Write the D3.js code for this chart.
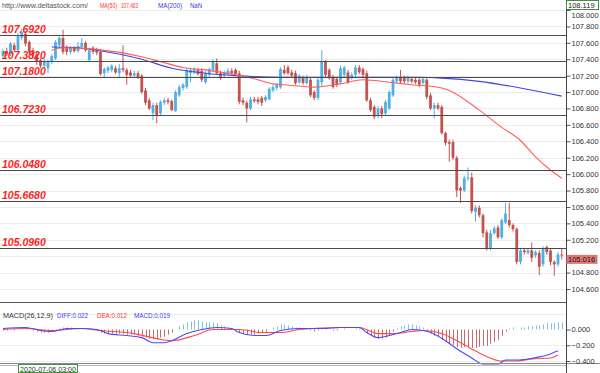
<!DOCTYPE html>
<html><head><meta charset="utf-8">
<script src="https://cdn.jsdelivr.net/npm/d3@7"></script>
<style>html,body{margin:0;padding:0;background:#fff;}svg{display:block;font-family:"Liberation Sans",Arial,sans-serif;}</style>
</head><body><svg id="c" width="600" height="373"></svg>
<script>
const opens=[107.44,107.50,107.46,107.57,107.51,107.66,107.71,107.61,107.51,107.46,
107.39,107.32,107.29,107.37,107.41,107.57,107.66,107.55,107.49,107.54,
107.50,107.55,107.60,107.39,107.54,107.51,107.49,107.23,107.26,107.27,
107.29,107.23,107.29,107.27,107.24,107.20,107.23,107.20,107.02,106.90,
106.74,106.84,106.74,106.87,106.90,106.89,106.77,106.96,107.05,107.06,
107.23,107.24,107.27,107.26,107.12,107.21,107.27,107.35,107.23,107.20,
107.22,107.26,107.27,107.23,106.90,106.87,106.80,106.91,106.91,106.93,
106.90,106.91,107.02,107.05,107.06,107.27,107.30,107.24,107.23,107.12,
107.17,107.11,107.15,107.00,106.93,107.12,107.37,107.27,107.18,107.16,
107.12,107.21,107.24,107.17,107.21,107.30,107.28,107.23,106.90,106.82,
106.71,106.80,106.74,106.80,106.96,107.13,107.18,107.17,107.13,107.16,
107.15,107.15,107.11,107.15,106.96,106.80,106.84,106.82,106.50,106.39,
106.39,106.20,105.83,105.80,105.95,105.96,105.54,105.59,105.50,105.29,
105.10,105.28,105.35,105.23,105.41,105.44,105.38,105.33,104.93,105.07,
105.04,105.07,105.01,105.04,104.90,105.11,105.07,104.93,104.90,105.02];
const closes=[107.50,107.46,107.59,107.51,107.68,107.73,107.59,107.49,107.45,107.37,
107.32,107.37,107.37,107.44,107.61,107.66,107.49,107.49,107.54,107.50,
107.56,107.60,107.51,107.51,107.49,107.48,107.22,107.28,107.30,107.32,
107.24,107.29,107.27,107.21,107.20,107.23,107.18,107.00,106.87,106.80,
106.84,106.72,106.88,106.90,106.88,106.78,107.00,107.06,107.09,107.27,
107.27,107.28,107.22,107.15,107.23,107.28,107.37,107.23,107.17,107.24,
107.26,107.23,107.22,106.88,106.87,106.80,106.91,106.89,106.88,106.87,
106.94,107.04,107.06,107.09,107.28,107.23,107.23,107.20,107.11,107.20,
107.11,107.18,106.96,106.93,107.15,107.37,107.21,107.17,107.06,107.09,
107.29,107.30,107.12,107.21,107.30,107.24,107.21,106.90,106.78,106.70,
106.80,106.73,106.88,107.00,107.15,107.17,107.13,107.13,107.17,107.13,
107.12,107.09,107.16,106.94,106.80,106.84,106.80,106.50,106.38,106.37,
106.20,105.80,105.80,105.95,105.96,105.55,105.59,105.50,105.28,105.10,
105.28,105.34,105.23,105.44,105.52,105.38,105.33,104.93,105.07,105.05,
105.07,104.98,105.05,104.87,105.10,105.05,104.93,104.90,105.02,105.016];
const highs=[107.53,107.54,107.61,107.60,107.72,107.77,107.74,107.63,107.54,107.49,
107.41,107.41,107.39,107.46,107.63,107.68,107.76,107.57,107.56,107.56,
107.61,107.66,107.62,107.54,107.56,107.54,107.51,107.30,107.32,107.34,
107.32,107.34,107.57,107.29,107.27,107.26,107.26,107.22,107.05,106.93,
106.87,106.87,106.90,106.93,106.93,106.91,107.02,107.09,107.11,107.29,
107.29,107.30,107.29,107.29,107.26,107.30,107.40,107.41,107.26,107.26,
107.29,107.29,107.29,107.26,106.93,106.89,106.94,106.94,106.94,106.95,
106.96,107.06,107.09,107.11,107.30,107.33,107.33,107.27,107.26,107.22,
107.20,107.21,107.17,107.02,107.17,107.51,107.39,107.29,107.21,107.18,
107.32,107.32,107.27,107.24,107.33,107.33,107.30,107.26,106.93,106.84,
106.83,106.83,106.90,107.02,107.17,107.20,107.27,107.20,107.20,107.18,
107.17,107.17,107.18,107.17,106.99,106.87,106.87,106.84,106.52,106.42,
106.42,106.22,105.85,105.98,106.08,106.02,105.62,105.62,105.52,105.32,
105.32,105.37,105.38,105.46,105.65,105.65,105.40,105.35,105.10,105.10,
105.10,105.17,105.07,105.07,105.12,105.13,105.10,104.95,105.05,105.10];
const lows=[107.41,107.44,107.44,107.49,107.49,107.63,107.56,107.45,107.41,107.33,
107.29,107.29,107.23,107.34,107.39,107.54,107.46,107.45,107.46,107.48,
107.48,107.52,107.49,107.37,107.46,107.45,107.20,107.17,107.23,107.24,
107.22,107.17,107.24,107.09,107.17,107.17,107.16,106.98,106.84,106.78,
106.66,106.62,106.72,106.84,106.85,106.77,106.76,106.94,107.02,107.04,
107.12,107.22,107.20,107.12,107.10,107.18,107.24,107.21,107.15,107.17,
107.20,107.21,107.20,106.85,106.84,106.63,106.78,106.87,106.85,106.83,
106.88,106.90,107.00,107.02,107.04,107.21,107.21,107.18,107.09,107.10,
107.09,107.09,106.94,106.90,106.90,107.07,107.18,107.15,107.04,107.06,
107.10,107.18,107.10,107.15,107.18,107.22,107.18,106.88,106.76,106.67,
106.68,106.68,106.72,106.78,106.94,107.11,107.11,107.11,107.11,107.11,
107.10,107.06,107.09,106.91,106.78,106.68,106.78,106.48,106.35,106.15,
106.17,105.72,105.65,105.78,105.92,105.52,105.42,105.47,105.23,105.07,
105.07,105.26,105.21,105.21,105.39,105.35,105.30,104.90,104.90,105.02,
105.02,104.93,104.98,104.77,104.87,105.02,104.89,104.76,104.87,104.96];
// moving averages read at sampled bar indices [index, value]
const ma50=[[13,107.51],[16,107.54],[25,107.52],[37,107.43],[42,107.37],[48,107.30],[54,107.27],[62,107.21],[68,107.15],[72,107.10],[75,107.09],[83,107.06],[90,107.10],[96,107.15],[103,107.12],[109,107.09],[117,107.05],[119,107.02],[127,106.78],[133,106.57],[138,106.41],[142,106.21],[146,106.05],[149,105.95]];
const ma200=[[13,107.55],[20,107.54],[25,107.51],[37,107.40],[45,107.29],[54,107.23],[62,107.20],[75,107.18],[92,107.18],[111,107.18],[117,107.17],[127,107.13],[138,107.05],[149,106.95]];
const levels=[107.692,107.382,107.18,106.723,106.048,105.668,105.096];
const priceTicks=[104.6,104.8,105.0,105.2,105.4,105.6,105.8,106.0,106.2,106.4,106.6,106.8,107.0,107.2,107.4,107.6,107.8,108.0];
const macdTicks=[0,-0.2,-0.4];
const hist=[-0.013,-0.013,0,-0.013,0,0.013,0.013,0,-0.013,-0.026,
-0.039,-0.039,-0.039,-0.026,-0.013,0.013,0.026,0.026,0.026,0.013,
0.013,0.013,0,0,-0.013,-0.013,-0.039,-0.052,-0.052,-0.052,
-0.052,-0.052,-0.052,-0.065,-0.065,-0.065,-0.078,-0.091,-0.104,-0.117,
-0.117,-0.117,-0.104,-0.091,-0.065,-0.039,0,0.039,0.065,0.091,
0.104,0.117,0.117,0.104,0.091,0.091,0.091,0.078,0.052,0.039,
0.026,0.013,0,-0.039,-0.052,-0.065,-0.065,-0.065,-0.052,-0.039,
-0.026,0,0.026,0.039,0.065,0.065,0.052,0.039,0.026,0.026,
0.013,0,-0.013,-0.026,-0.013,0.013,0.013,0,-0.013,-0.013,
0,0.013,0,0,0.013,0.013,0,-0.052,-0.078,-0.104,
-0.117,-0.117,-0.104,-0.078,-0.026,0.013,0.039,0.052,0.065,0.065,
0.052,0.039,0.026,-0.013,-0.052,-0.078,-0.091,-0.130,-0.156,-0.182,
-0.195,-0.221,-0.234,-0.221,-0.221,-0.234,-0.234,-0.221,-0.208,-0.208,
-0.182,-0.156,-0.130,-0.078,-0.026,0.013,0.026,0,0.026,0.026,
0.039,0.039,0.052,0.052,0.065,0.078,0.078,0.078,0.091,0.091];
const diff=[[0,0.013],[6,0.026],[10,-0.013],[13,-0.026],[17,0.013],[21,0.013],[25,0],[28,-0.052],[33,-0.077],[37,-0.103],[40,-0.168],[43,-0.168],[45,-0.142],[49,-0.052],[53,0],[57,0.026],[61,0.013],[63,-0.039],[67,-0.077],[70,-0.077],[74,-0.013],[79,0.013],[85,0.013],[90,0.026],[95,0.026],[97,-0.039],[100,-0.103],[103,-0.077],[106,-0.039],[109,0],[112,-0.013],[114,-0.039],[118,-0.142],[121,-0.245],[125,-0.361],[128,-0.439],[132,-0.439],[134,-0.387],[137,-0.387],[140,-0.374],[143,-0.348],[146,-0.310],[148,-0.271]];
const dea=[[0,0],[6,0.013],[13,-0.013],[21,0.013],[26,-0.013],[35,-0.052],[41,-0.116],[45,-0.142],[51,-0.077],[56,0],[63,0],[69,-0.039],[74,-0.039],[79,0],[90,0.026],[95,0.026],[100,-0.052],[104,-0.052],[109,-0.026],[112,-0.013],[117,-0.052],[122,-0.168],[127,-0.297],[133,-0.400],[137,-0.400],[141,-0.374],[146,-0.361],[148,-0.323]];
const timeLabels=["2020-07-06 03:00"];
const headerTexts={site:"http://www.deltastock.com/",ma50:"107.463",ma200:"NaN",top:"108.119"};
const macdTexts=["MACD(26,12,9)","DIFF:0.022","DEA:0.012","MACD:0.019"];

const svg=d3.select("#c");
const AX=566;
const x=d3.scaleLinear().domain([0,149]).range([3,561.75]);
const y=d3.scaleLinear().domain([104.6,108.0]).range([289,10]);
const ym=d3.scaleLinear().domain([-0.4,0]).range([361,329.5]);
const UP="#4fb0e3", DN="#c4534f";
const last=closes[closes.length-1];

// gridlines
svg.append("g").selectAll("line").data(priceTicks).join("line")
 .attr("x1",0).attr("x2",AX).attr("y1",d=>Math.round(y(d))+0.5).attr("y2",d=>Math.round(y(d))+0.5)
 .attr("stroke","#ececec");
svg.append("g").selectAll("line").data([0.2,-0.2,-0.4]).join("line")
 .attr("x1",0).attr("x2",AX).attr("y1",d=>Math.round(ym(d))+0.5).attr("y2",d=>Math.round(ym(d))+0.5)
 .attr("stroke","#ececec");

// candles
const idx=d3.range(opens.length);
const cg=svg.append("g");
cg.selectAll("line").data(idx).join("line")
 .attr("x1",i=>x(i)).attr("x2",i=>x(i)).attr("y1",i=>y(highs[i])).attr("y2",i=>y(lows[i]))
 .attr("stroke",i=>closes[i]>=opens[i]?UP:DN).attr("stroke-width",1);
cg.selectAll("rect").data(idx).join("rect")
 .attr("x",i=>x(i)-1.4).attr("width",2.8)
 .attr("y",i=>y(Math.max(opens[i],closes[i])))
 .attr("height",i=>Math.max(1,Math.abs(y(opens[i])-y(closes[i]))))
 .attr("fill",i=>closes[i]>=opens[i]?UP:DN);

// MAs
const lineP=d3.line().x(d=>x(d[0])).y(d=>y(d[1])).curve(d3.curveMonotoneX);
svg.append("path").attr("d",lineP(ma200)).attr("fill","none").attr("stroke","#4646dc").attr("stroke-width",1.1);
svg.append("path").attr("d",lineP(ma50)).attr("fill","none").attr("stroke","#ff5c5c").attr("stroke-width",1.1);

// levels
const lg=svg.append("g");
lg.selectAll("line").data(levels).join("line")
 .attr("x1",0).attr("x2",AX).attr("y1",d=>Math.round(y(d))+0.5).attr("y2",d=>Math.round(y(d))+0.5)
 .attr("stroke","#4a4a4a").attr("stroke-width",1);
lg.selectAll("text").data(levels).join("text")
 .attr("x",2).attr("y",d=>Math.round(y(d))-2)
 .attr("fill","#ff1e1e").attr("font-size","10.5px").attr("font-weight","bold").attr("font-style","italic")
 .text(d=>d.toFixed(4));

// header
const hd=svg.append("g").attr("font-size","7px");
const hdItems=[[headerTexts.site,2,"#555",86],["MA(50)",100,"#ff3030",17],[headerTexts.ma50,121,"#ff3030",17],["MA(200)",158,"#3a3ae0",24],[headerTexts.ma200,190,"#3a3ae0",12]];
hdItems.forEach(d=>hd.append("text").attr("x",d[1]).attr("y",8).attr("fill",d[2])
 .attr("textLength",d[3]).attr("lengthAdjust","spacingAndGlyphs").text(d[0]));

// MACD panel
svg.append("line").attr("x1",0).attr("x2",AX).attr("y1",302.5).attr("y2",302.5).attr("stroke","#555");
svg.append("g").selectAll("line").data(idx).join("line")
 .attr("x1",i=>Math.round(x(i))+0.5).attr("x2",i=>Math.round(x(i))+0.5)
 .attr("y1",ym(0)).attr("y2",i=>ym(hist[i]))
 .attr("stroke",i=>hist[i]>=0?"#7cc2ea":"#c86a6a").attr("stroke-width",1);
const lineM=d3.line().x(d=>x(d[0])).y(d=>ym(d[1])).curve(d3.curveMonotoneX);
svg.append("path").attr("d",lineM(dea)).attr("fill","none").attr("stroke","#ff4a4a").attr("stroke-width",1.1);
svg.append("path").attr("d",lineM(diff)).attr("fill","none").attr("stroke","#4a4aff").attr("stroke-width",1.1);
const mt=svg.append("g").attr("font-size","7px");
const mcols=["#333","#3a3aff","#ff3030","#3a3aff"], mxs=[3,57,97,134], mlens=[50,31,30,36];
macdTexts.forEach((t,k)=>mt.append("text").attr("x",mxs[k]).attr("y",318).attr("fill",mcols[k])
 .attr("textLength",mlens[k]).attr("lengthAdjust","spacingAndGlyphs").text(t));

// bottom strip
svg.append("line").attr("x1",0).attr("x2",600).attr("y1",363.5).attr("y2",363.5).attr("stroke","#888");
svg.append("line").attr("x1",0).attr("x2",AX).attr("y1",365.5).attr("y2",365.5).attr("stroke","#bbb");
svg.append("rect").attr("x",18.5).attr("y",364.5).attr("width",59).attr("height",8).attr("fill","#fff").attr("stroke","#3c9a3c");
svg.append("text").attr("x",20).attr("y",371.5).attr("font-size","7.5px").attr("fill","#333")
 .attr("textLength",56).attr("lengthAdjust","spacingAndGlyphs").text(timeLabels[0]);

// right axes (labels hidden where the last-price box covers them, as in the reference)
const fmt=d3.format(".3f");
const ax=svg.append("g").attr("transform",`translate(${AX+0.5},0)`)
 .call(d3.axisRight(y).tickValues(priceTicks).tickFormat(d=>Math.abs(y(d)-(y(last)+4.5))<7?"":fmt(d)).tickSize(4).tickPadding(1));
ax.select(".domain").remove();
ax.selectAll("line").attr("stroke","#555");
ax.selectAll("text").attr("font-size","7.5px").attr("fill","#333").attr("font-family","Liberation Sans, Arial");
ax.selectAll(".tick").filter(d=>d===108.0).select("text").attr("dy","1em");
const axm=svg.append("g").attr("transform",`translate(${AX+0.5},0)`)
 .call(d3.axisRight(ym).tickValues(macdTicks).tickFormat(fmt).tickSize(4).tickPadding(1));
axm.select(".domain").remove();
axm.selectAll("line").attr("stroke","#555");
axm.selectAll("text").attr("font-size","7.5px").attr("fill","#333").attr("font-family","Liberation Sans, Arial");
svg.append("line").attr("x1",AX+0.5).attr("x2",AX+0.5).attr("y1",0).attr("y2",373).attr("stroke","#444");

// top box and last-price box
svg.append("rect").attr("x",566.5).attr("y",0.5).attr("width",32).attr("height",9).attr("fill","#fff").attr("stroke","#3c8c3c");
svg.append("text").attr("x",568).attr("y",8).attr("font-size","7.5px").attr("fill","#222").text(headerTexts.top);
svg.append("rect").attr("x",566.5).attr("y",y(last)).attr("width",31).attr("height",9).attr("fill","#e07474");
svg.append("text").attr("x",568).attr("y",y(last)+7.5).attr("font-size","7.5px").attr("fill","#222").text(last.toFixed(3));
</script></body></html>
